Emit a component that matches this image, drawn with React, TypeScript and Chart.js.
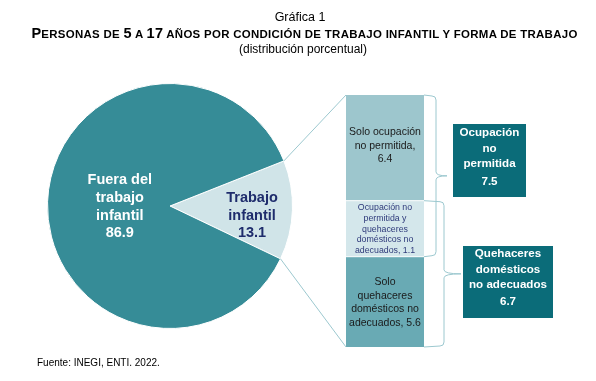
import React, { useEffect, useRef } from "react";
import { Chart, registerables } from "chart.js";

Chart.register(...registerables);

// ---------- DATA ----------
const pieCategories = ["Trabajo infantil", "Fuera del trabajo infantil"];
const pieValues = [13.1, 86.9];
const pieLabelLines = [["Trabajo", "infantil"], ["Fuera del", "trabajo", "infantil"]];

// stacked bar (bottom -> top)
const barCategories = [
  "Solo quehaceres domésticos no adecuados",
  "Ocupación no permitida y quehaceres domésticos no adecuados",
  "Solo ocupación no permitida",
];
const barValues = [5.6, 1.1, 6.4];
const barLabelLines = [
  ["Solo", "quehaceres", "domésticos no", "adecuados, "],
  ["Ocupación no", "permitida y", "quehaceres", "domésticos no", "adecuados, "],
  ["Solo ocupación", "no permitida,", ""],
];

const groupLabelLines = [["Ocupación", "no", "permitida"], ["Quehaceres", "domésticos", "no adecuados"]];
const groupValues = [7.5, 6.7];

const titleTop = "Gráfica 1";
// [text, isLarge]
const titleMainParts: [string, boolean][] = [
  ["P", true],
  ["ERSONAS DE ", false],
  ["5", true],
  [" A ", false],
  ["17", true],
  [" AÑOS POR CONDICIÓN DE TRABAJO INFANTIL Y FORMA DE TRABAJO", false],
];
const titleSub = "(distribución porcentual)";
const sourceText = "Fuente: INEGI, ENTI. 2022.";

// ---------- STYLE ----------
const FONT = '"Liberation Sans", Arial, Helvetica, sans-serif';
const PIE_COLORS = ["#D0E4E8", "#368C97"];
const BAR_COLORS = ["#69AAB4", "#D4E7EB", "#9DC6CD"];
const BOX_COLOR = "#0B6C79";
const LINE_COLOR = "#9CC8CF";
const NAVY = "#1E2C6C";

function drawLines(ctx: CanvasRenderingContext2D, lines: string[], cx: number, cy: number, lh: number) {
  const n = lines.length;
  lines.forEach((l, i) => {
    ctx.fillText(l, cx, cy + (i - (n - 1) / 2) * lh);
  });
}

export default function App() {
  const pieRef = useRef<HTMLCanvasElement | null>(null);
  const barRef = useRef<HTMLCanvasElement | null>(null);

  useEffect(() => {
    if (!pieRef.current || !barRef.current) return;

    const pieLabelPlugin = {
      id: "pieLabels",
      afterDatasetsDraw(chart: any) {
        const ctx = chart.ctx as CanvasRenderingContext2D;
        const meta = chart.getDatasetMeta(0);
        ctx.save();
        ctx.textAlign = "center";
        ctx.textBaseline = "middle";
        ctx.font = `bold 14.5px ${FONT}`;
        meta.data.forEach((arc: any, i: number) => {
          const p = arc.getProps(["x", "y", "startAngle", "endAngle", "outerRadius"], true);
          const mid = (p.startAngle + p.endAngle) / 2;
          const f = i === 0 ? 0.67 : 0.41;
          const cx = p.x + Math.cos(mid) * p.outerRadius * f;
          const cy = p.y + Math.sin(mid) * p.outerRadius * f + (i === 0 ? 7 : 2.5);
          ctx.fillStyle = i === 0 ? NAVY : "#FFFFFF";
          drawLines(ctx, [...pieLabelLines[i], pieValues[i].toFixed(1)], cx, cy, 17.6);
        });
        ctx.restore();
      },
    };

    const pie = new Chart(pieRef.current, {
      type: "pie",
      data: {
        labels: pieCategories,
        datasets: [
          {
            data: pieValues,
            backgroundColor: PIE_COLORS,
            borderColor: "#FFFFFF",
            borderWidth: 1,
          },
        ],
      },
      options: {
        responsive: false,
        animation: false,
        rotation: 68.4,
        layout: { padding: { left: 47, right: 303, top: 83, bottom: 52 } },
        plugins: { legend: { display: false }, tooltip: { enabled: false } },
      },
      plugins: [pieLabelPlugin],
    } as any);

    const total = barValues.reduce((a, b) => a + b, 0);

    const barPlugin = {
      id: "barDecor",
      afterDatasetsDraw(chart: any) {
        const ctx = chart.ctx as CanvasRenderingContext2D;
        const els = barValues.map((_, i) =>
          chart.getDatasetMeta(i).data[0].getProps(["x", "y", "base", "width"], true)
        );
        const left = els[0].x - els[0].width / 2;
        const right = els[0].x + els[0].width / 2;
        const barTop = els[2].y;
        const barBottom = els[0].base;

        // connectors from the pie slice
        const arc = pie.getDatasetMeta(0).data[0] as any;
        const a = arc.getProps(["x", "y", "startAngle", "endAngle", "outerRadius"], true);
        ctx.save();
        ctx.strokeStyle = LINE_COLOR;
        ctx.lineWidth = 1;
        ctx.beginPath();
        ctx.moveTo(a.x + Math.cos(a.startAngle) * a.outerRadius, a.y + Math.sin(a.startAngle) * a.outerRadius);
        ctx.lineTo(left, barTop);
        ctx.moveTo(a.x + Math.cos(a.endAngle) * a.outerRadius, a.y + Math.sin(a.endAngle) * a.outerRadius);
        ctx.lineTo(left, barBottom);
        ctx.stroke();
        ctx.restore();

        // middle label with background
        ctx.save();
        const midEl = els[1];
        const midC = (midEl.y + midEl.base) / 2;
        const midLines = [...barLabelLines[1]];
        midLines[midLines.length - 1] += barValues[1].toFixed(1);
        const lhM = 10.6;
        const boxH = midLines.length * lhM + 3;
        const boxTop = midC - boxH / 2;
        const boxBottom = midC + boxH / 2;
        ctx.fillStyle = BAR_COLORS[1];
        ctx.fillRect(left, boxTop, right - left, boxH);
        ctx.strokeStyle = "#FFFFFF";
        ctx.lineWidth = 1;
        ctx.beginPath();
        ctx.moveTo(left, boxTop);
        ctx.lineTo(right, boxTop);
        ctx.moveTo(left, boxBottom);
        ctx.lineTo(right, boxBottom);
        ctx.stroke();
        ctx.textAlign = "center";
        ctx.textBaseline = "middle";
        ctx.fillStyle = "#2E3A7A";
        ctx.font = `8.8px ${FONT}`;
        drawLines(ctx, midLines, (left + right) / 2, midC + 0.5, lhM);

        // top & bottom labels
        ctx.fillStyle = "#1A1A1A";
        ctx.font = `10.5px ${FONT}`;
        const topLines = [...barLabelLines[2]];
        topLines[topLines.length - 1] += barValues[2].toFixed(1);
        const topC = (els[2].y + boxTop) / 2 - 2;
        drawLines(ctx, topLines, (left + right) / 2, topC, 13.5);
        const botLines = [...barLabelLines[0]];
        botLines[botLines.length - 1] += barValues[0].toFixed(1);
        const botC = (boxBottom + els[0].base) / 2 + 1;
        drawLines(ctx, botLines, (left + right) / 2, botC, 13.5);
        ctx.restore();

        // brackets
        const bracket = (top: number, bottom: number, arm: number, tip: number) => {
          const xv = right + arm;
          const r = 4;
          const ty = (top + bottom) / 2;
          ctx.beginPath();
          ctx.moveTo(right, top);
          ctx.lineTo(xv - r, top + 1);
          ctx.quadraticCurveTo(xv, top + 1, xv, top + r + 1);
          ctx.lineTo(xv, ty - r);
          ctx.quadraticCurveTo(xv, ty, xv + tip, ty);
          ctx.moveTo(xv + tip, ty);
          ctx.quadraticCurveTo(xv, ty, xv, ty + r);
          ctx.lineTo(xv, bottom - r - 1);
          ctx.quadraticCurveTo(xv, bottom - 1, xv - r, bottom - 1);
          ctx.lineTo(right, bottom);
          ctx.stroke();
          return { tipX: xv + tip, tipY: ty };
        };
        ctx.save();
        ctx.strokeStyle = LINE_COLOR;
        ctx.lineWidth = 1;
        const b1 = bracket(barTop, boxBottom, 12, 11);
        const b2 = bracket(boxTop, barBottom, 20, 17);
        ctx.restore();

        // group boxes
        const drawBox = (i: number, x: number, y: number, w: number, h: number, lines: number[]) => {
          ctx.save();
          ctx.fillStyle = BOX_COLOR;
          ctx.fillRect(x, y, w, h);
          ctx.fillStyle = "#FFFFFF";
          ctx.textAlign = "center";
          ctx.textBaseline = "middle";
          ctx.font = `bold 11.6px ${FONT}`;
          const all = [...groupLabelLines[i], groupValues[i].toFixed(1)];
          all.forEach((l, k) => ctx.fillText(l, x + w / 2, lines[k]));
          ctx.restore();
        };
        drawBox(0, b1.tipX + 6, 124, 73, 73, [133, 149, 164, 182]);
        drawBox(1, b2.tipX + 2, 246, 90, 72, [254, 270, 285, 302]);
      },
    };

    const bar = new Chart(barRef.current, {
      type: "bar",
      data: {
        labels: [""],
        datasets: barValues.map((v, i) => ({
          label: barCategories[i],
          data: [v],
          backgroundColor: BAR_COLORS[i],
          borderWidth: 0,
          barPercentage: 1,
          categoryPercentage: 1,
          stack: "s",
        })),
      },
      options: {
        responsive: false,
        animation: false,
        layout: { padding: { left: 346, right: 172, top: 95, bottom: 34 } },
        scales: {
          x: { stacked: true, display: false },
          y: { stacked: true, display: false, min: 0, max: total },
        },
        plugins: { legend: { display: false }, tooltip: { enabled: false } },
      },
      plugins: [barPlugin],
    } as any);

    return () => {
      bar.destroy();
      pie.destroy();
    };
  }, []);

  const textBase: React.CSSProperties = {
    position: "absolute",
    left: 0,
    width: 606,
    textAlign: "center",
    fontFamily: FONT,
    color: "#000",
    whiteSpace: "nowrap",
  };

  return (
    <div style={{ position: "fixed", left: 0, top: 0, width: 596, height: 381, background: "#FFFFFF", overflow: "hidden" }}>
      <canvas ref={pieRef} width={596} height={381} style={{ position: "absolute", left: 0, top: 0 }} />
      <canvas ref={barRef} width={596} height={381} style={{ position: "absolute", left: 0, top: 0 }} />
      <div style={{ ...textBase, width: 600, top: 9, fontSize: 12.5, lineHeight: "16px" }}>{titleTop}</div>
      <div style={{ ...textBase, width: 609, top: 25, lineHeight: "16px", fontWeight: "bold", letterSpacing: 0.3 }}>
        {titleMainParts.map(([t, big], i) => (
          <span key={i} style={{ fontSize: big ? 14.5 : 11.45 }}>
            {t}
          </span>
        ))}
      </div>
      <div style={{ ...textBase, top: 41, fontSize: 12, lineHeight: "16px" }}>{titleSub}</div>
      <div style={{ position: "absolute", left: 37, top: 356, fontSize: 10, lineHeight: "14px", fontFamily: FONT, color: "#000" }}>
        {sourceText}
      </div>
    </div>
  );
}
